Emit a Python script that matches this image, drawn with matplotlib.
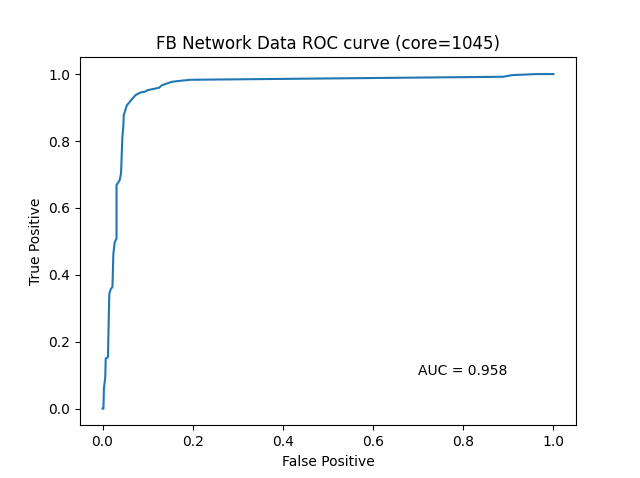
import numpy as np
import matplotlib
matplotlib.use('Agg')
import matplotlib.pyplot as plt

# ROC points
fpr = [0.0, 0.002, 0.003, 0.006, 0.007, 0.012, 0.014, 0.015, 0.018, 0.022,
       0.024, 0.027, 0.031, 0.031, 0.038, 0.041, 0.044, 0.046, 0.047, 0.054,
       0.073, 0.084, 0.095, 0.100, 0.125, 0.132, 0.154, 0.173, 0.195, 0.888,
       0.909, 0.962, 1.0]
tpr = [0.0, 0.0, 0.06, 0.094, 0.15, 0.154, 0.284, 0.343, 0.357, 0.364,
       0.463, 0.498, 0.508, 0.668, 0.683, 0.703, 0.813, 0.842, 0.877, 0.907,
       0.937, 0.945, 0.948, 0.952, 0.959, 0.967, 0.977, 0.980, 0.983, 0.992,
       0.997, 1.0, 1.0]
auc = 0.958
core = 1045

fig = plt.figure(figsize=(6.4, 4.78), dpi=100)
plt.plot(fpr, tpr)
plt.text(0.7, 0.1, 'AUC = %.3f' % auc)
plt.xlabel('False Positive')
plt.ylabel('True Positive')
plt.title('FB Network Data ROC curve (core=%d)' % core)
plt.savefig('out.png')
